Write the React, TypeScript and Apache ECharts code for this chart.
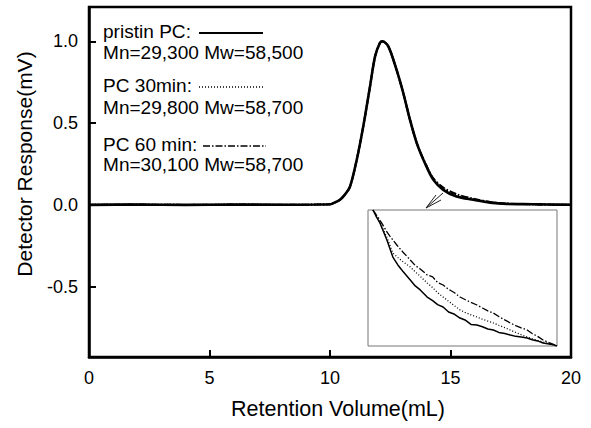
import React, { useEffect, useRef } from "react";
import * as echarts from "echarts";

// ---- Main chart data (Retention Volume in mL, Detector Response in mV) ----
const mainVolume = [0, 2, 4, 6, 8, 9.5, 10.0, 10.1, 10.4, 10.6, 10.83, 11.11, 11.38, 11.66, 11.87, 12.07, 12.18, 12.42, 12.76, 13.04, 13.32, 13.6, 13.94, 14.29, 14.7, 15.25, 15.95, 16.64, 17.33, 18.4, 19, 20];
const pristineValues = [0, 0.002, 0, 0.002, 0.001, 0.002, 0.004, 0.008, 0.03, 0.06, 0.112, 0.276, 0.48, 0.724, 0.908, 0.99, 1.0, 0.969, 0.827, 0.684, 0.52, 0.378, 0.255, 0.153, 0.092, 0.051, 0.031, 0.014, 0.006, 0.004, 0.002, 0.001];
const pc30Values = [0, 0.002, 0, 0.002, 0.001, 0.002, 0.004, 0.008, 0.03, 0.06, 0.112, 0.276, 0.48, 0.724, 0.908, 0.99, 1.0, 0.969, 0.827, 0.684, 0.52, 0.378, 0.257, 0.158, 0.1, 0.06, 0.035, 0.017, 0.007, 0.004, 0.002, 0.001];
const pc60Values = [0, 0.002, 0, 0.002, 0.001, 0.002, 0.004, 0.008, 0.03, 0.06, 0.112, 0.276, 0.48, 0.724, 0.908, 0.99, 1.0, 0.969, 0.827, 0.684, 0.52, 0.378, 0.259, 0.162, 0.106, 0.066, 0.038, 0.018, 0.008, 0.004, 0.002, 0.001];

// ---- Inset (zoomed tail) data ----
const insetVolume = [14.3, 14.37, 14.44, 14.51, 14.58, 14.64, 14.7, 14.8, 14.9, 15.05, 15.15, 15.25, 15.39, 15.5, 15.6, 15.71, 15.82, 15.94, 16.05, 16.15, 16.27, 16.39, 16.5, 16.61, 16.72, 16.83, 16.95, 17.06, 17.17, 17.28, 17.4, 17.5, 17.61, 17.72, 17.84, 17.93, 18.0];
const insetPristine = [0.12, 0.114, 0.1086, 0.101, 0.0936, 0.086, 0.0785, 0.0715, 0.066, 0.0583, 0.053, 0.0495, 0.0432, 0.04, 0.0365, 0.0344, 0.03, 0.028, 0.0247, 0.023, 0.019, 0.0185, 0.017, 0.015, 0.0141, 0.012, 0.011, 0.0097, 0.0085, 0.008, 0.0071, 0.0055, 0.0045, 0.0026, 0.0018, 0.001, 0];
const insetPc30 = [0.12, 0.1145, 0.109, 0.1025, 0.096, 0.089, 0.082, 0.078, 0.0745, 0.0697, 0.0655, 0.0615, 0.0556, 0.0515, 0.047, 0.0432, 0.0395, 0.0355, 0.0318, 0.0297, 0.0275, 0.0256, 0.0236, 0.022, 0.0203, 0.0183, 0.0162, 0.0141, 0.012, 0.01, 0.0079, 0.0064, 0.005, 0.0035, 0.0022, 0.001, 0];
const insetPc60 = [0.12, 0.1155, 0.111, 0.106, 0.1006, 0.097, 0.0936, 0.088, 0.083, 0.0759, 0.071, 0.068, 0.0627, 0.061, 0.056, 0.0538, 0.05, 0.047, 0.0432, 0.041, 0.0385, 0.0362, 0.0335, 0.031, 0.0291, 0.026, 0.023, 0.0203, 0.018, 0.016, 0.0141, 0.011, 0.0085, 0.0053, 0.003, 0.0015, 0];

const xTicks = [0, 5, 10, 15, 20];
const yTicks = [-0.5, 0, 0.5, 1.0];

const legendTitles = ["pristin PC:", "PC 30min:", "PC 60 min:"];
const legendStats = ["Mn=29,300 Mw=58,500", "Mn=29,800 Mw=58,700", "Mn=30,100 Mw=58,700"];

const FONT = "'Liberation Sans', Arial, Helvetica, sans-serif";

const pairs = (xs: number[], ys: number[]) => xs.map((x, i) => [x, ys[i]]);

export default function App() {
  const ref = useRef<HTMLDivElement>(null);
  useEffect(() => {
    if (!ref.current) return;
    const chart = echarts.init(ref.current, undefined, { renderer: "svg" });
    const dashDot = [7, 2, 1.5, 2];
    const dotted = [1, 2];
    const lineStyles = [
      { type: "solid" as any },
      { type: dotted as any },
      { type: dashDot as any },
    ];
    const legendRows = [32, 86, 145];
    const statRows = [53, 108, 165];
    const legendFont = `18px ${FONT}`;
    const graphic: any[] = [];
    legendTitles.forEach((t, i) => {
      graphic.push({
        type: "text", x: 103, y: legendRows[i], scaleX: 1.06,
        style: { text: t, font: legendFont, fill: "#000", verticalAlign: "middle" },
      });
      graphic.push({
        type: "line",
        shape: { x1: i === 2 ? 203 : 199, y1: legendRows[i] + 1, x2: i === 2 ? 266 : 263, y2: legendRows[i] + 1 },
        style: { stroke: "#000", lineWidth: i === 0 ? 2 : 1.3, lineDash: i === 0 ? null : lineStyles[i].type },
      });
      graphic.push({
        type: "text", x: 103, y: statRows[i], scaleX: 1.06,
        style: { text: legendStats[i], font: legendFont, fill: "#000", verticalAlign: "middle" },
      });
    });
    // arrow pointing from curve tail to inset
    graphic.push({ type: "line", shape: { x1: 443, y1: 193, x2: 426, y2: 208 }, style: { stroke: "#222", lineWidth: 1 } });
    graphic.push({ type: "line", shape: { x1: 426, y1: 208, x2: 441, y2: 200 }, style: { stroke: "#222", lineWidth: 1 } });
    graphic.push({ type: "line", shape: { x1: 426, y1: 208, x2: 436, y2: 195 }, style: { stroke: "#222", lineWidth: 1 } });
    // axis titles
    graphic.push({
      type: "text", x: 338, y: 409,
      style: { text: "Retention Volume(mL)", font: `21.5px ${FONT}`, fill: "#000", align: "center", verticalAlign: "middle" },
    });
    graphic.push({
      type: "text", x: 24, y: 164, rotation: Math.PI / 2,
      style: { text: "Detector Response(mV)", font: `21px ${FONT}`, fill: "#000", align: "center", verticalAlign: "middle" },
    });

    const mainSeries = [pristineValues, pc30Values, pc60Values].map((vals, i) => ({
      type: "line",
      xAxisIndex: 0, yAxisIndex: 0,
      data: pairs(mainVolume, vals),
      showSymbol: false, smooth: 0.3,
      lineStyle: { color: "#000", width: i === 0 ? 2.6 : 2, type: lineStyles[i].type },
      z: 3 - i,
    }));
    const insetSeries = [insetPristine, insetPc30, insetPc60].map((vals, i) => ({
      type: "line",
      xAxisIndex: 1, yAxisIndex: 1,
      data: pairs(insetVolume, vals),
      showSymbol: false,
      lineStyle: { color: "#000", width: i === 0 ? 1.5 : 1.3, type: lineStyles[i].type },
      z: 6,
    }));

    chart.setOption({
      animation: false,
      backgroundColor: "#fff",
      textStyle: { fontFamily: FONT },
      grid: [
        { left: 89, right: 20, top: 7, bottom: 71, show: true, borderColor: "#000", borderWidth: 2.5, backgroundColor: "transparent" },
        { left: 368, top: 210, width: 189, height: 136, show: true, borderColor: "#777", borderWidth: 1, backgroundColor: "#fff", z: 5 },
      ],
      xAxis: [
        {
          type: "value", gridIndex: 0, min: 0, max: 20, interval: 5,
          axisLine: { show: true, onZero: false, lineStyle: { color: "#000", width: 2.5 } },
          axisTick: { show: true, inside: true, length: 7, lineStyle: { color: "#000", width: 2 } },
          axisLabel: { color: "#000", fontSize: 18, fontFamily: FONT, margin: 12, customValues: xTicks },
          splitLine: { show: false },
        },
        {
          type: "value", gridIndex: 1, min: 14.2, max: 18.0,
          axisLine: { show: false }, axisTick: { show: false }, axisLabel: { show: false }, splitLine: { show: false },
        },
      ],
      yAxis: [
        {
          type: "value", gridIndex: 0, min: -0.93, max: 1.21,
          axisLine: { show: true, onZero: false, lineStyle: { color: "#000", width: 2.5 } },
          axisTick: { show: true, inside: true, length: 7, lineStyle: { color: "#000", width: 2 }, customValues: yTicks },
          axisLabel: { color: "#000", fontSize: 18, fontFamily: FONT, margin: 11, customValues: yTicks, formatter: (v: number) => v.toFixed(1) },
          splitLine: { show: false },
        },
        {
          type: "value", gridIndex: 1, min: 0, max: 0.12,
          axisLine: { show: false }, axisTick: { show: false }, axisLabel: { show: false }, splitLine: { show: false },
        },
      ],
      series: [...mainSeries, ...insetSeries],
      graphic,
    });
    return () => chart.dispose();
  }, []);
  return <div ref={ref} style={{ position: "fixed", left: 0, top: 0, width: 591, height: 428 }} />;
}
